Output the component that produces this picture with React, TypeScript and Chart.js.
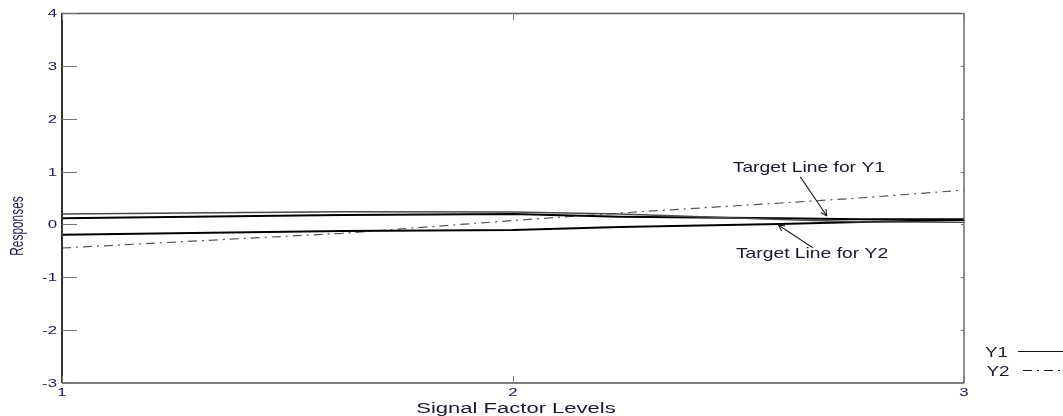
import React, { useEffect, useRef } from "react";
import { Chart, registerables } from "chart.js";

Chart.register(...registerables);

// ---- data ----
const xLevels = [1, 1.621, 2, 2.237, 2.592, 2.769, 3];
const y1Response = [0.197, 0.24, 0.235, 0.197, 0.093, 0.051, 0.04];
const targetY1 = [0.115, 0.178, 0.197, 0.146, 0.115, 0.097, 0.097];
const targetY2 = [-0.195, -0.125, -0.106, -0.049, 0.008, 0.045, 0.083];
const y2Response = [-0.446, -0.168, 0.074, 0.216, 0.405, 0.5, 0.65];

const xTickValues = [1, 2, 3];
const yTickValues = [-3, -2, -1, 0, 1, 2, 3, 4];

const xTitle = "Signal Factor Levels";
const yTitle = "Responses";
const legendLabels = ["Y1", "Y2"];

const annotationTexts = ["Target Line for Y1", "Target Line for Y2"];
const annotationTextX = [2.656, 2.663];
const annotationTextY = [0.997, -0.641];
const arrowFromX = [2.637, 2.665];
const arrowFromY = [0.9, -0.44];
const arrowToX = [2.696, 2.588];
const arrowToY = [0.16, -0.01];

const FONT = "'Liberation Sans', Arial, 'DejaVu Sans', sans-serif";
const DASHDOT = [9, 5, 2, 5];
const TICK_COLOR = "#1a1a50";

function stretchedText(
  ctx: CanvasRenderingContext2D,
  text: string,
  x: number,
  by: number,
  sx: number,
  size: number,
  color: string,
  align: CanvasTextAlign = "center"
) {
  ctx.save();
  ctx.translate(x, by);
  ctx.scale(sx, 1);
  ctx.font = `${size}px ${FONT}`;
  ctx.fillStyle = color;
  ctx.textAlign = align;
  ctx.textBaseline = "alphabetic";
  ctx.fillText(text, 0, 0);
  ctx.restore();
}

function arrow(ctx: CanvasRenderingContext2D, x1: number, y1: number, x2: number, y2: number) {
  ctx.beginPath();
  ctx.moveTo(x1, y1);
  ctx.lineTo(x2, y2);
  const ang = Math.atan2(y2 - y1, x2 - x1);
  const L = 7;
  const spread = 0.45;
  ctx.moveTo(x2, y2);
  ctx.lineTo(x2 - L * Math.cos(ang - spread), y2 - L * Math.sin(ang - spread));
  ctx.moveTo(x2, y2);
  ctx.lineTo(x2 - L * Math.cos(ang + spread), y2 - L * Math.sin(ang + spread));
  ctx.stroke();
}

const decorPlugin = {
  id: "decor",
  afterDatasetsDraw(chart: any) {
    const { ctx, chartArea: a, scales } = chart;
    const xs = scales.x;
    const ys = scales.y;
    ctx.save();

    // frame
    ctx.strokeStyle = "#555";
    ctx.lineWidth = 1.3;
    ctx.beginPath();
    ctx.moveTo(a.left, a.top + 0.5);
    ctx.lineTo(a.right, a.top + 0.5);
    ctx.moveTo(a.right, a.top);
    ctx.lineTo(a.right, a.bottom);
    ctx.moveTo(a.left, a.bottom);
    ctx.lineTo(a.right, a.bottom);
    ctx.stroke();
    ctx.strokeStyle = "#333";
    ctx.lineWidth = 2;
    ctx.beginPath();
    ctx.moveTo(a.left, a.top);
    ctx.lineTo(a.left, a.bottom);
    ctx.stroke();

    // inward ticks
    ctx.strokeStyle = "#777";
    ctx.lineWidth = 1;
    ctx.beginPath();
    ys.ticks.forEach((t: any) => {
      const py = Math.round(ys.getPixelForValue(t.value)) + 0.5;
      ctx.moveTo(a.left, py);
      ctx.lineTo(a.left + 15, py);
      ctx.moveTo(a.right, py);
      ctx.lineTo(a.right - 3, py);
    });
    xs.ticks.forEach((t: any) => {
      const px = Math.round(xs.getPixelForValue(t.value)) + 0.5;
      ctx.moveTo(px, a.bottom);
      ctx.lineTo(px, a.bottom - 7);
      ctx.moveTo(px, a.top);
      ctx.lineTo(px, a.top + 7);
    });
    ctx.stroke();

    // tick labels (wide, squat look)
    ys.ticks.forEach((t: any) => {
      const py = ys.getPixelForValue(t.value);
      stretchedText(ctx, String(t.value), a.left - 5, py + 4, 1.6, 10.5, TICK_COLOR, "right");
    });
    xs.ticks.forEach((t: any) => {
      const px = xs.getPixelForValue(t.value);
      stretchedText(ctx, String(t.value), px, a.bottom + 13, 1.6, 10.5, TICK_COLOR, "center");
    });

    // annotations
    ctx.strokeStyle = "#222";
    ctx.lineWidth = 1.1;
    annotationTexts.forEach((txt, i) => {
      stretchedText(
        ctx,
        txt,
        xs.getPixelForValue(annotationTextX[i]),
        ys.getPixelForValue(annotationTextY[i]),
        1.33,
        14.5,
        "#1a1a2e"
      );
      arrow(
        ctx,
        xs.getPixelForValue(arrowFromX[i]),
        ys.getPixelForValue(arrowFromY[i]),
        xs.getPixelForValue(arrowToX[i]),
        ys.getPixelForValue(arrowToY[i])
      );
    });

    // x title
    stretchedText(ctx, xTitle, (a.left + a.right) / 2 + 3, a.bottom + 30.3, 1.43, 15.4, "#1a1a2e");

    // y title (rotated)
    ctx.save();
    ctx.translate(23, a.top + 213);
    ctx.rotate(-Math.PI / 2);
    ctx.scale(0.66, 1);
    ctx.font = `18px ${FONT}`;
    ctx.fillStyle = TICK_COLOR;
    ctx.textAlign = "center";
    ctx.textBaseline = "alphabetic";
    ctx.fillText(yTitle, 0, 0);
    ctx.restore();

    // legend
    stretchedText(ctx, legendLabels[0], a.right + 32.5, a.bottom - 26.3, 1.35, 14, "#1a1a2e");
    stretchedText(ctx, legendLabels[1], a.right + 34, a.bottom - 7, 1.35, 14, "#1a1a2e");
    ctx.strokeStyle = "#111";
    ctx.lineWidth = 1;
    ctx.beginPath();
    ctx.moveTo(a.right + 54, a.bottom - 31.5);
    ctx.lineTo(a.right + 99, a.bottom - 31.5);
    ctx.stroke();
    ctx.setLineDash(DASHDOT);
    ctx.beginPath();
    ctx.moveTo(a.right + 59, a.bottom - 12.5);
    ctx.lineTo(a.right + 99, a.bottom - 12.5);
    ctx.stroke();
    ctx.setLineDash([]);

    ctx.restore();
  },
};

export default function App() {
  const canvasRef = useRef<HTMLCanvasElement | null>(null);

  useEffect(() => {
    if (!canvasRef.current) return;
    const pts = (ys: number[]) => xLevels.map((x, i) => ({ x, y: ys[i] }));
    const chart = new Chart(canvasRef.current, {
      type: "line",
      data: {
        datasets: [
          {
            label: legendLabels[0],
            data: pts(y1Response),
            borderColor: "#4a4a4a",
            borderWidth: 1.3,
            pointRadius: 0,
            tension: 0,
          },
          {
            label: annotationTexts[0],
            data: pts(targetY1),
            borderColor: "#000",
            borderWidth: 2,
            pointRadius: 0,
            tension: 0,
          },
          {
            label: annotationTexts[1],
            data: pts(targetY2),
            borderColor: "#000",
            borderWidth: 2,
            pointRadius: 0,
            tension: 0,
          },
          {
            label: legendLabels[1],
            data: pts(y2Response),
            borderColor: "#555",
            borderWidth: 1.2,
            borderDash: DASHDOT,
            pointRadius: 0,
            tension: 0,
          },
        ],
      },
      options: {
        animation: false,
        responsive: false,
        devicePixelRatio: 1,
        layout: { padding: { top: 13, right: 99, left: 0, bottom: 0 } },
        plugins: { legend: { display: false }, tooltip: { enabled: false } },
        scales: {
          x: {
            type: "linear",
            min: 1,
            max: 3,
            afterFit: (s: any) => {
              s.height = 33;
            },
            afterBuildTicks: (s: any) => {
              s.ticks = xTickValues.map((v) => ({ value: v }));
            },
            grid: { display: false, drawTicks: false },
            border: { display: false },
            ticks: { display: false },
          },
          y: {
            type: "linear",
            min: -3,
            max: 4,
            afterFit: (s: any) => {
              s.width = 62;
            },
            afterBuildTicks: (s: any) => {
              s.ticks = yTickValues.map((v) => ({ value: v }));
            },
            grid: { display: false, drawTicks: false },
            border: { display: false },
            ticks: { display: false },
          },
        },
      },
      plugins: [decorPlugin],
    });
    return () => chart.destroy();
  }, []);

  return (
    <div style={{ position: "fixed", left: 0, top: 0, width: 1063, height: 416, background: "#fff" }}>
      <canvas ref={canvasRef} width={1063} height={416} />
    </div>
  );
}
